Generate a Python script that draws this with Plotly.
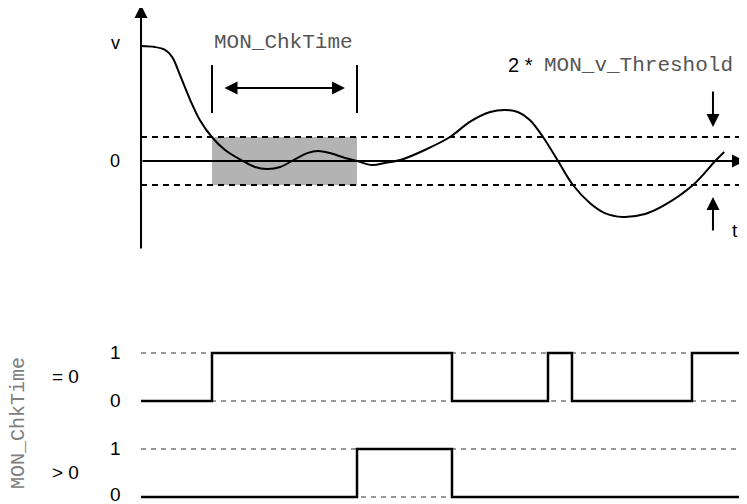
import plotly.graph_objects as go

# velocity curve (time, speed) - threshold = 1 unit
t_curve = [0, 2.3, 4, 5.2, 6.5, 8.2, 9.8, 11.8, 14, 17, 19, 21, 23.2, 25.7, 27.7,
           29.5, 31.5, 34, 36, 38.5, 40.7, 43.2, 47.3, 51.5, 54.8, 58.2, 60.7, 62.8,
           64.8, 67, 69.5, 72, 74.8, 77.3, 80.3, 84, 87.3, 92, 95.7, 97.2]
v_curve = [4.79, 4.75, 4.63, 4.33, 3.58, 2.54, 1.71, 1.0, 0.46, 0, -0.25, -0.33, -0.25,
           0.08, 0.33, 0.42, 0.33, 0.125, 0, -0.17, -0.08, 0.04, 0.46, 1.0, 1.63, 2.04,
           2.125, 2.04, 1.71, 1.0, 0, -1.0, -1.75, -2.17, -2.33, -2.21, -1.83, -1.0, 0, 0.375]
threshold = 1
chk_window = [11.83, 36]
t_end = 100

# digital outputs
t_eq0 = [0, 11.83, 51.83, 67.83, 71.83, 91.83, 99.83]
s_eq0 = [0, 1, 0, 1, 0, 1, 1]
t_gt0 = [0, 36, 51.83, 99.83]
s_gt0 = [0, 1, 0, 0]
levels = [0, 1]

mono = "Liberation Mono, Courier New, monospace"
sans = "Liberation Sans, Arial, sans-serif"

fig = go.Figure()

# gray band of the check window
fig.add_shape(type="rect", x0=chk_window[0], x1=chk_window[1], y0=-threshold, y1=threshold,
              xref="x", yref="y", fillcolor="#b3b3b3", line=dict(width=0), layer="below")

# threshold lines
for lv in [threshold, -threshold]:
    fig.add_trace(go.Scatter(x=[0, t_end], y=[lv, lv], mode="lines",
                             line=dict(color="black", width=2, dash="6px,5px"),
                             xaxis="x", yaxis="y"))

fig.add_trace(go.Scatter(x=t_curve, y=v_curve, mode="lines", line_shape="spline",
                         line=dict(color="black", width=2), xaxis="x", yaxis="y"))

# window markers
for tx in chk_window:
    fig.add_shape(type="line", x0=tx, x1=tx, y0=2.0, y1=4.0, xref="x", yref="y",
                  line=dict(color="black", width=2))

# digital gridlines and signals
for ax, tt, ss in [("y2", t_eq0, s_eq0), ("y3", t_gt0, s_gt0)]:
    for lv in levels:
        fig.add_trace(go.Scatter(x=[0, t_end], y=[lv, lv], mode="lines",
                                 line=dict(color="#333333", width=1, dash="5px,5px"),
                                 xaxis="x", yaxis=ax))
    fig.add_trace(go.Scatter(x=tt, y=ss, mode="lines", line_shape="hv",
                             line=dict(color="black", width=2.5), xaxis="x", yaxis=ax))

ann = []
arr = dict(showarrow=True, arrowhead=2, arrowsize=1.3, arrowwidth=2, arrowcolor="black",
           xref="x", yref="y", axref="x", ayref="y", text="")
# axes with arrows
ann.append(dict(arr, x=0, y=6.5, ax=0, ay=-3.71))
ann.append(dict(arr, x=100.67, y=0, ax=0, ay=0))
# double arrow for the window
ann.append(dict(arr, x=34, y=3.04, ax=13.67, ay=3.04, arrowside="end+start"))
# threshold arrows
ann.append(dict(arr, x=95.33, y=1.42, ax=95.33, ay=2.96))
ann.append(dict(arr, x=95.33, y=-1.5, ax=95.33, ay=-2.96))

txt = dict(showarrow=False, xref="x", yref="y", font=dict(family=sans, size=18, color="black"))
ann.append(dict(txt, x=-4.33, y=4.92, text="v"))
ann.append(dict(txt, x=-4.33, y=0, text="0"))
ann.append(dict(txt, x=99.0, y=-2.875, text="t", font=dict(family=sans, size=19, color="black")))
ann.append(dict(txt, x=23.83, y=4.92, text="MON_ChkTime", font=dict(family=mono, size=21, color="#555555")))
ann.append(dict(txt, x=65.7, y=4.0, text="2 *", xanchor="right", font=dict(family=sans, size=20, color="black")))
ann.append(dict(txt, x=66.9, y=4.0, text="MON_v_Threshold", xanchor="left",
                font=dict(family=mono, size=21, color="#555555")))

lab = dict(txt, font=dict(family=sans, size=19, color="black"))
for ax in ["y2", "y3"]:
    for lv in levels:
        ann.append(dict(lab, yref=ax, x=-4.33, y=lv + (0.05 if ax == "y3" and lv == 0 else 0), text=str(lv)))
ann.append(dict(lab, yref="y2", x=-12.67, y=0.5, text="= 0"))
ann.append(dict(lab, yref="y3", x=-12.67, y=0.5, text="> 0"))
ann.append(dict(txt, yref="y2", x=-20.5, y=-0.46, text="MON_ChkTime", textangle=-90,
                font=dict(family=mono, size=20, color="#808080")))

# the page puts the figure 8px in from the top-left corner
hidden = dict(visible=False, fixedrange=True)
fig.update_layout(
    width=739, height=496, margin=dict(l=0, r=0, t=0, b=0),
    paper_bgcolor="white", plot_bgcolor="white", showlegend=False,
    xaxis=dict(hidden, range=[-22.17, 101], domain=[0, 1]),
    yaxis=dict(hidden, range=[-14.29, 6.375], domain=[0, 1]),
    yaxis2=dict(hidden, range=[-2.146, 8.1875], domain=[0, 1], overlaying="y"),
    yaxis3=dict(hidden, range=[-0.146, 10.1875], domain=[0, 1], overlaying="y"),
    annotations=ann,
)

fig.write_html("out.html")
